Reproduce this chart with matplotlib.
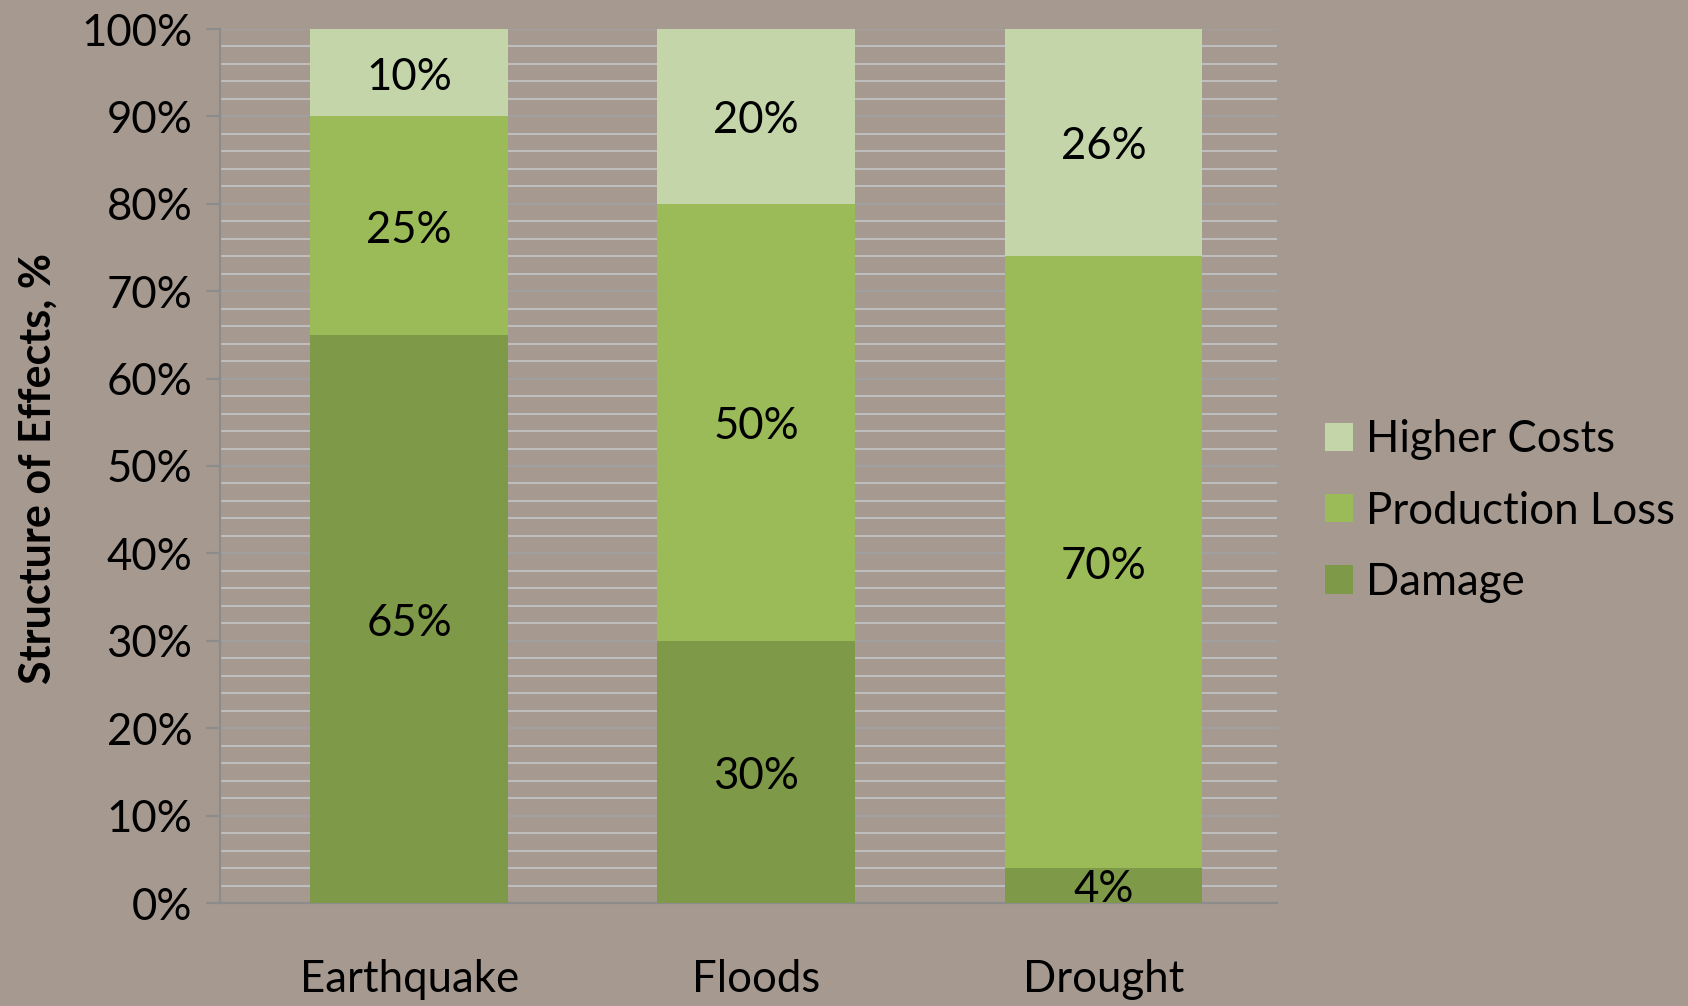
#!/usr/bin/env python

import matplotlib.pyplot as plt
import numpy as np

plt.rcParams['font.family'] = ['Lato', 'DejaVu Sans']

## the data
hazards = ['Earthquake', 'Floods', 'Drought']
damage = [65, 30, 4]
production_loss = [25, 50, 70]
higher_costs = [10, 20, 26]

series = [('Damage', damage, '#7E9A48'),
          ('Production Loss', production_loss, '#9BBB59'),
          ('Higher Costs', higher_costs, '#C4D6A9')]

bg = '#A69990'
fs = 31.5

fig = plt.figure(figsize=(16.88, 10.06), dpi=100, facecolor=bg)
ax = fig.add_axes([220/1688, 103/1006, 1057/1688, 874/1006])
ax.set_facecolor(bg)

x = np.arange(len(hazards))
bottom = np.zeros(len(hazards))
handles = {}
for name, vals, col in series:
    bars = ax.bar(x, vals, 0.57, bottom=bottom, color=col, zorder=3, label=name)
    handles[name] = bars
    for xi, b, v in zip(x, bottom, vals):
        ax.text(xi, b + v/2 - 0.5, '%d%%' % v, ha='center', va='center',
                fontsize=fs, color='black', zorder=4)
    bottom = bottom + np.array(vals)

## axes and grid
ax.set_ylim(0, 100)
ax.set_xlim(-0.545, 2.5)
ax.set_yticks(np.arange(0, 101, 10))
ax.set_yticklabels(['%d%%' % v for v in range(0, 101, 10)], fontsize=fs)
ax.set_yticks(np.arange(0, 101, 2), minor=True)
ax.grid(axis='y', which='major', color='#A0A0A0', lw=1.6, zorder=1)
ax.grid(axis='y', which='minor', color='#C0C0C0', lw=1.4, zorder=1)
ax.tick_params(axis='y', which='major', length=10, width=1.6, color='#8C8C8C', pad=10)
ax.tick_params(axis='y', which='minor', length=0)

ax.set_xticks(x)
ax.set_xticklabels(hazards, fontsize=fs)
ax.tick_params(axis='x', length=0, pad=40)

for s in ['top', 'right']:
    ax.spines[s].set_visible(False)
ax.spines['left'].set_color('#8C8C8C')
ax.spines['left'].set_linewidth(1.6)
ax.spines['bottom'].set_color('#8C8C8C')
ax.spines['bottom'].set_linewidth(1.6)

fig.text(38/1688, 1 - 468/1006, 'Structure of Effects, %', rotation=90,
         ha='center', va='center', fontsize=31, fontweight='bold')

## legend
order = ['Higher Costs', 'Production Loss', 'Damage']
leg = fig.legend([handles[n] for n in order], order, loc='upper left',
                 bbox_to_anchor=(1286/1688, 1 - 380/1006), frameon=False,
                 fontsize=fs, handlelength=0.62, handleheight=0.62,
                 handletextpad=0.3, labelspacing=0.69)

plt.savefig('out.png', dpi=100, facecolor=bg)
